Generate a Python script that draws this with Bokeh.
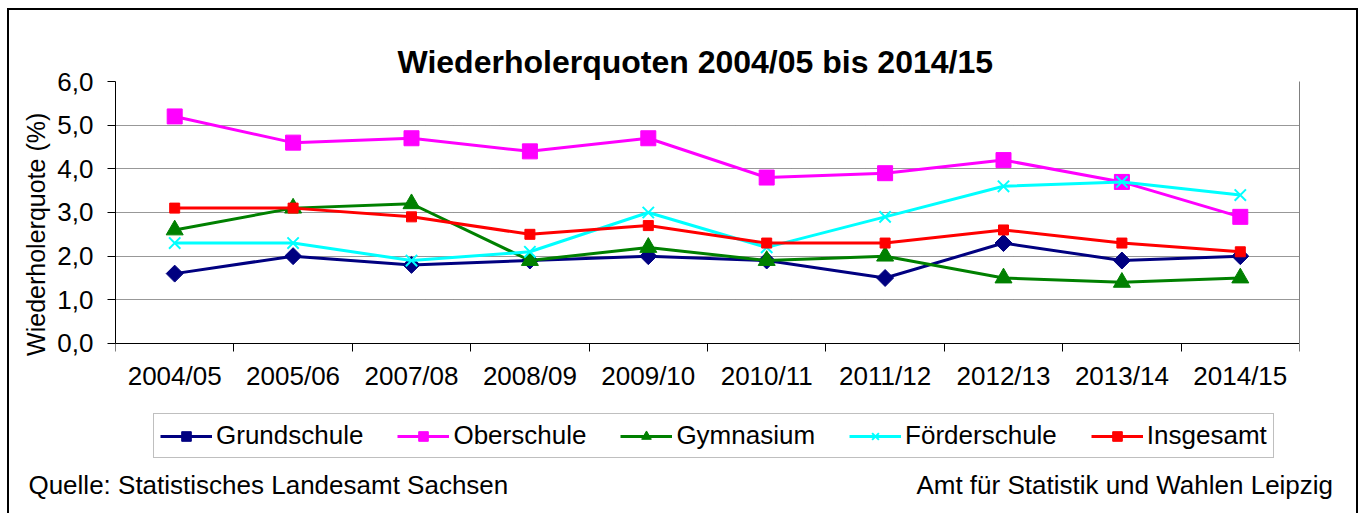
from bokeh.plotting import figure
from bokeh.models import (FixedTicker, Legend, LegendItem, Range1d, LinearAxis,
                          CustomJSTickFormatter)
from bokeh.embed import file_html
from bokeh.resources import INLINE

# ---- data -------------------------------------------------------------
years = ["2004/05", "2005/06", "2007/08", "2008/09", "2009/10",
         "2010/11", "2011/12", "2012/13", "2013/14", "2014/15"]
grundschule = [1.6, 2.0, 1.8, 1.9, 2.0, 1.9, 1.5, 2.3, 1.9, 2.0]
oberschule = [5.2, 4.6, 4.7, 4.4, 4.7, 3.8, 3.9, 4.2, 3.7, 2.9]
gymnasium = [2.6, 3.1, 3.2, 1.9, 2.2, 1.9, 2.0, 1.5, 1.4, 1.5]
foerderschule = [2.3, 2.3, 1.9, 2.1, 3.0, 2.2, 2.9, 3.6, 3.7, 3.4]
insgesamt = [3.1, 3.1, 2.9, 2.5, 2.7, 2.3, 2.3, 2.6, 2.3, 2.1]
y_ticks = [0, 1, 2, 3, 4, 5, 6]
y_title = "Wiederholerquote (%)"
footer_texts = ["Quelle: Statistisches Landesamt Sachsen",
                "Amt für Statistik und Wahlen Leipzig"]

FONT = "Liberation Sans"
FS = "25px"
TFS = "26px"

xs = [i + 0.5 for i in range(len(years))]

# frame runs from the top of the value area down to just below the legend;
# the value axis occupies 0..6, the space below 0 holds labels and legend
Y_LOW = -2.68

p = figure(width=1358, height=513, output_backend="svg", toolbar_location=None,
           x_range=Range1d(0, len(years)), y_range=Range1d(Y_LOW, 6),
           min_border_left=115, min_border_right=59, min_border_top=81,
           min_border_bottom=53)
p.border_fill_alpha = 0
p.background_fill_color = "white"
p.outline_line_color = None
p.styles = {"background": "white",
            "box-shadow": "inset 7px 0 0 #fff, inset 0 8px 0 #fff, "
                          "inset 9px 0 0 #000, inset 0 10px 0 #000, "
                          "inset -2px 0 0 #000"}

p.title.text = "Wiederholerquoten 2004/05 bis 2014/15"
p.title.text_font = FONT
p.title.text_font_size = "32px"
p.title.text_font_style = "bold"
p.title.text_color = "black"
p.title.align = "left"
p.title.offset = 282
p.title.standoff = 4

# x axis drawn at value 0: labels centred in categories, ticks on boundaries
xa = p.below[0]
xa.fixed_location = 0
xa.ticker = FixedTicker(ticks=xs, minor_ticks=list(range(len(years) + 1)))
xa.major_label_overrides = {x: y for x, y in zip(xs, years)}
xa.major_tick_line_color = None
xa.minor_tick_line_color = "black"
xa.minor_tick_in = 0
xa.minor_tick_out = 8
xa.major_label_standoff = 10
xa.axis_line_color = "black"
xa.major_label_text_font = FONT
xa.major_label_text_font_size = TFS
xa.major_label_text_color = "black"

ya = p.left[0]
ya.bounds = (0, 6)
ya.ticker = FixedTicker(ticks=y_ticks)
ya.formatter = CustomJSTickFormatter(code="return tick.toFixed(1).replace('.', ',');")
ya.major_tick_in = 0
ya.major_tick_out = 8
ya.minor_tick_line_color = None
ya.major_label_standoff = 14
ya.axis_line_color = "black"
ya.major_label_text_font = FONT
ya.major_label_text_font_size = TFS
ya.major_label_text_color = "black"

# y axis title, placed where the reference shows it
y_title_pos = [2.5]
yt = LinearAxis(ticker=FixedTicker(ticks=y_title_pos, minor_ticks=[]),
                major_label_overrides={y_title_pos[0]: y_title},
                major_label_orientation="vertical",
                axis_line_color=None, major_tick_line_color=None,
                minor_tick_line_color=None, major_tick_out=0, major_tick_in=0,
                minor_tick_out=0, minor_tick_in=0, major_label_standoff=4,
                major_label_text_font=FONT, major_label_text_font_size=FS,
                major_label_text_color="black")
p.add_layout(yt, "left")

# grey right-hand border of the value area
ra = LinearAxis(bounds=(0, 6), ticker=FixedTicker(ticks=[], minor_ticks=[]),
                axis_line_color="#808080", major_tick_line_color=None,
                minor_tick_line_color=None, major_label_text_font_size="0px")
p.add_layout(ra, "right")

p.xgrid.grid_line_color = None
p.ygrid.grid_line_color = "#303030"
p.ygrid.grid_line_dash = "1 1"
p.ygrid.grid_line_width = 1

series = [
    ("Grundschule", grundschule, "#000080", "square", 12, 0.7853982),
    ("Oberschule", oberschule, "#FF00FF", "square", 15, 0.0),
    ("Gymnasium", gymnasium, "#008000", "triangle", 17, 0.0),
    ("Förderschule", foerderschule, "#00FFFF", "x", 16, 0.0),
    ("Insgesamt", insgesamt, "#FF0000", "square", 10, 0.0),
]

items = []
for name, vals, col, marker, size, ang in series:
    l = p.line(xs, vals, line_color=col, line_width=3)
    if marker == "x":
        s = p.scatter(xs, vals, marker=marker, size=size, line_color=col,
                      line_width=2)
    else:
        s = p.scatter(xs, vals, marker=marker, size=size, fill_color=col,
                      line_color=col, angle=ang)
    items.append(LegendItem(label=name, renderers=[l, s]))

legend = Legend(items=items, orientation="horizontal", location=(38, 2),
                label_text_font=FONT, label_text_font_size="26px",
                label_text_color="black",
                glyph_width=52, glyph_height=24, label_standoff=4,
                spacing=34, padding=6, margin=0, border_line_color="#808080",
                border_line_width=1, background_fill_color="white",
                background_fill_alpha=1)
p.add_layout(legend)

# footer line: source (left) and publisher (right), as an unlined axis
footer_pos = [1.291, 8.524]
fa = LinearAxis(ticker=FixedTicker(ticks=footer_pos, minor_ticks=[]),
                major_label_overrides={x: t for x, t in zip(footer_pos, footer_texts)},
                axis_line_color=None, major_tick_line_color=None,
                minor_tick_line_color=None, major_tick_out=0, major_tick_in=0,
                minor_tick_out=0, minor_tick_in=0,
                major_label_standoff=9,
                major_label_text_font=FONT, major_label_text_font_size=TFS,
                major_label_text_color="black")
p.add_layout(fa, "below")

open("out.html", "w").write(file_html(p, INLINE))
